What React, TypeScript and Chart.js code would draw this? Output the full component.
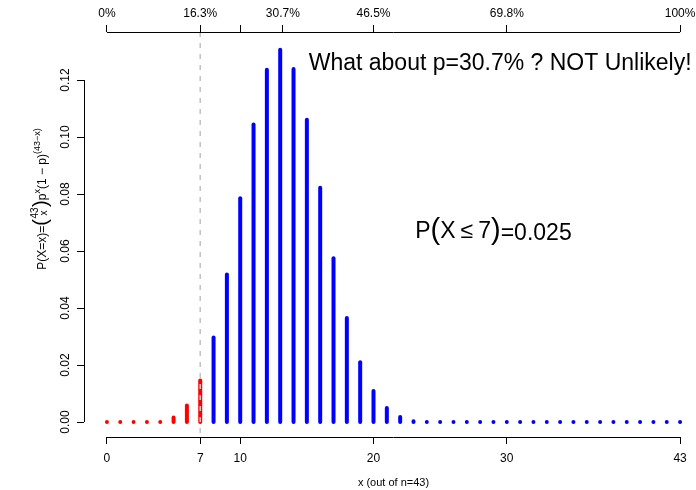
import React, { useEffect, useRef } from "react";
import { Chart, registerables } from "chart.js";

Chart.register(...registerables);

// ---------------- data ----------------
const xValues = [
  0, 1, 2, 3, 4, 5, 6, 7, 8, 9, 10, 11, 12, 13, 14, 15, 16, 17, 18, 19, 20, 21,
  22, 23, 24, 25, 26, 27, 28, 29, 30, 31, 32, 33, 34, 35, 36, 37, 38, 39, 40, 41,
  42, 43,
];
const probabilities = [
  0.0, 0.0, 0.0, 0.0002, 0.0007, 0.0023, 0.0065, 0.0153, 0.0304, 0.0525, 0.0792,
  0.1051, 0.1243, 0.1313, 0.1246, 0.1068, 0.0829, 0.0582, 0.0372, 0.0217, 0.0116,
  0.0056, 0.0025, 0.001, 0.0004, 0.0001, 0.0, 0.0, 0.0, 0.0, 0.0, 0.0, 0.0, 0.0,
  0.0, 0.0, 0.0, 0.0, 0.0, 0.0, 0.0, 0.0, 0.0, 0.0,
];
const cutoff = 7;
const bottomTickValues = [0, 7, 10, 20, 30, 43];
const yTickValues = [0, 0.02, 0.04, 0.06, 0.08, 0.1, 0.12];
const topTickValues = [0, 7, 10, 13.2, 20, 30, 43];
const topTickLabels = ["0%", "16.3%", "", "30.7%", "46.5%", "69.8%", "100%"];
const headline = "What about p=30.7% ? NOT Unlikely!";
const tailProbabilityText = "=0.025";
const xAxisTitle = "x (out of n=43)";

const FONT = '"Liberation Sans", Arial, Helvetica, sans-serif';
const RED = "#FF0000";
const BLUE = "#0000FF";

type Piece = {
  text?: string;
  size: number;
  dy?: number;
  stack?: [string, string];
  stackDy?: [number, number];
  pad?: number;
};

function pieceWidth(ctx: CanvasRenderingContext2D, p: Piece) {
  ctx.font = `${p.size}px ${FONT}`;
  const w = p.stack
    ? Math.max(ctx.measureText(p.stack[0]).width, ctx.measureText(p.stack[1]).width)
    : ctx.measureText(p.text || "").width;
  return w + (p.pad || 0) * 2;
}

function drawRun(
  ctx: CanvasRenderingContext2D,
  pieces: Piece[],
  x: number,
  y: number,
  align: "center" | "left"
) {
  const widths = pieces.map((p) => pieceWidth(ctx, p));
  const total = widths.reduce((a, b) => a + b, 0);
  let cx = align === "center" ? x - total / 2 : x;
  ctx.textBaseline = "alphabetic";
  pieces.forEach((p, i) => {
    ctx.font = `${p.size}px ${FONT}`;
    if (p.stack) {
      ctx.textAlign = "center";
      const mid = cx + widths[i] / 2;
      ctx.fillText(p.stack[0], mid, y + (p.stackDy ? p.stackDy[0] : 0));
      ctx.fillText(p.stack[1], mid, y + (p.stackDy ? p.stackDy[1] : 0));
    } else {
      ctx.textAlign = "left";
      ctx.fillText(p.text || "", cx + (p.pad || 0), y + (p.dy || 0));
    }
    cx += widths[i];
  });
}

const decorations = {
  id: "decorations",
  afterDatasetsDraw(chart: any) {
    const { ctx, chartArea } = chart;
    const xs = chart.scales.x;
    const px = xs.getPixelForValue(cutoff);
    ctx.save();
    ctx.strokeStyle = "#C4C4C4";
    ctx.lineWidth = 1.6;
    ctx.setLineDash([5, 6]);
    ctx.beginPath();
    ctx.moveTo(px, chartArea.top);
    ctx.lineTo(px, chartArea.bottom);
    ctx.stroke();
    ctx.restore();
  },
  afterDraw(chart: any) {
    const { ctx, chartArea } = chart;
    const xs = chart.scales.x;
    const xt = chart.scales.xTop;
    const ys = chart.scales.y;
    ctx.save();
    ctx.strokeStyle = "#000";
    ctx.lineWidth = 1;
    ctx.setLineDash([]);
    // bottom axis line
    const by = Math.round(chartArea.bottom) + 0.5;
    ctx.beginPath();
    ctx.moveTo(xs.getPixelForValue(bottomTickValues[0]), by);
    ctx.lineTo(xs.getPixelForValue(bottomTickValues[bottomTickValues.length - 1]), by);
    ctx.stroke();
    // top axis line
    const ty = Math.round(chartArea.top) + 0.5;
    ctx.beginPath();
    ctx.moveTo(xt.getPixelForValue(topTickValues[0]), ty);
    ctx.lineTo(xt.getPixelForValue(topTickValues[topTickValues.length - 1]), ty);
    ctx.stroke();
    // left axis line
    const lx = Math.round(chartArea.left) + 0.5;
    ctx.beginPath();
    ctx.moveTo(lx, ys.getPixelForValue(yTickValues[0]));
    ctx.lineTo(lx, ys.getPixelForValue(yTickValues[yTickValues.length - 1]));
    ctx.stroke();

    ctx.fillStyle = "#000";
    // headline
    ctx.font = `23px ${FONT}`;
    ctx.textAlign = "center";
    ctx.textBaseline = "alphabetic";
    ctx.fillText(headline, xs.getPixelForValue(29.5), ys.getPixelForValue(0.1235));

    // tail probability expression
    drawRun(
      ctx,
      [
        { text: "P", size: 23 },
        { text: "(", size: 29, dy: 1.5 },
        { text: "X", size: 23 },
        { text: "\u2264", size: 23, pad: 5 },
        { text: "7", size: 23 },
        { text: ")", size: 29, dy: 1.5 },
        { text: tailProbabilityText, size: 23, dy: 2.5 },
      ],
      xs.getPixelForValue(29.0),
      ys.getPixelForValue(0.0647),
      "center"
    );

    // y axis label (rotated math expression)
    ctx.translate(chartArea.left - 38, 199);
    ctx.rotate(-Math.PI / 2);
    drawRun(
      ctx,
      [
        { text: "P(X=x)=", size: 12 },
        { text: "(", size: 20, dy: 0.5 },
        { stack: ["43", "x"], size: 10, stackDy: [-8, 0.5], pad: 0.5 },
        { text: ")", size: 20, dy: 0.5 },
        { text: "p", size: 12 },
        { text: "x", size: 9, dy: -6 },
        { text: "(1 \u2212 p)", size: 12 },
        { text: "(43\u2212x)", size: 9, dy: -6 },
      ],
      0,
      0,
      "center"
    );
    ctx.restore();
  },
};

export default function App() {
  const ref = useRef<HTMLCanvasElement>(null);
  useEffect(() => {
    const canvas = ref.current!;
    const tickFont = { family: FONT, size: 12 };
    const chart = new Chart(canvas, {
      type: "bar",
      data: {
        datasets: [
          {
            data: xValues.map((x, i) => ({ x, y: probabilities[i] })),
            backgroundColor: xValues.map((x) => (x <= cutoff ? RED : BLUE)),
            barThickness: 4,
            borderRadius: 2,
            borderSkipped: false,
            borderWidth: 0,
            minBarLength: 4,
            base: -0.0007,
            inflateAmount: 0,
            xAxisID: "x",
            yAxisID: "y",
          } as any,
        ],
      },
      options: {
        responsive: false,
        animation: false,
        devicePixelRatio: 1,
        events: [],
        layout: { padding: 0 },
        plugins: {
          legend: { display: false },
          tooltip: { enabled: false },
          title: { display: false },
        },
        scales: {
          x: {
            type: "linear",
            position: "bottom",
            min: -1.72,
            max: 44.72,
            bounds: "data",
            offset: false,
            afterBuildTicks: (s: any) => {
              s.ticks = bottomTickValues.map((v) => ({ value: v }));
            },
            afterFit: (s: any) => {
              s.height = 53;
            },
            grid: { drawOnChartArea: false, drawTicks: true, tickLength: 7, color: "#000", offset: false },
            border: { display: false },
            ticks: {
              autoSkip: false,
              maxRotation: 0,
              minRotation: 0,
              padding: 7,
              color: "#000",
              font: tickFont,
              callback: (v: any) => String(v),
            },
            title: {
              display: true,
              text: xAxisTitle,
              color: "#000",
              font: { family: FONT, size: 11 },
              padding: { top: 0, bottom: 0 },
            },
          },
          xTop: {
            type: "linear",
            position: "top",
            min: -1.72,
            max: 44.72,
            bounds: "data",
            offset: false,
            afterBuildTicks: (s: any) => {
              s.ticks = topTickValues.map((v) => ({ value: v }));
            },
            afterFit: (s: any) => {
              s.height = 32;
            },
            grid: { drawOnChartArea: false, drawTicks: true, tickLength: 7, color: "#000", offset: false },
            border: { display: false },
            ticks: {
              autoSkip: false,
              maxRotation: 0,
              minRotation: 0,
              padding: 4,
              color: "#000",
              font: tickFont,
              callback: (_v: any, i: number) => topTickLabels[i],
            },
          },
          y: {
            type: "linear",
            position: "left",
            min: -0.00526,
            max: 0.13686,
            bounds: "data",
            beginAtZero: false,
            afterBuildTicks: (s: any) => {
              s.ticks = yTickValues.map((v) => ({ value: v }));
            },
            afterFit: (s: any) => {
              s.width = 84;
            },
            grid: { drawOnChartArea: false, drawTicks: true, tickLength: 7, color: "#000" },
            border: { display: false },
            ticks: {
              autoSkip: false,
              minRotation: 90,
              maxRotation: 90,
              crossAlign: "center",
              padding: 0,
              color: "#000",
              font: tickFont,
              callback: (v: any) => Number(v).toFixed(2),
            },
          },
        },
      } as any,
      plugins: [decorations],
    });
    return () => chart.destroy();
  }, []);

  return (
    <div
      style={{
        position: "fixed",
        left: 0,
        top: 0,
        width: 696,
        height: 490,
        overflow: "hidden",
        background: "#fff",
      }}
    >
      <canvas ref={ref} width={703} height={490} style={{ display: "block" }} />
    </div>
  );
}
